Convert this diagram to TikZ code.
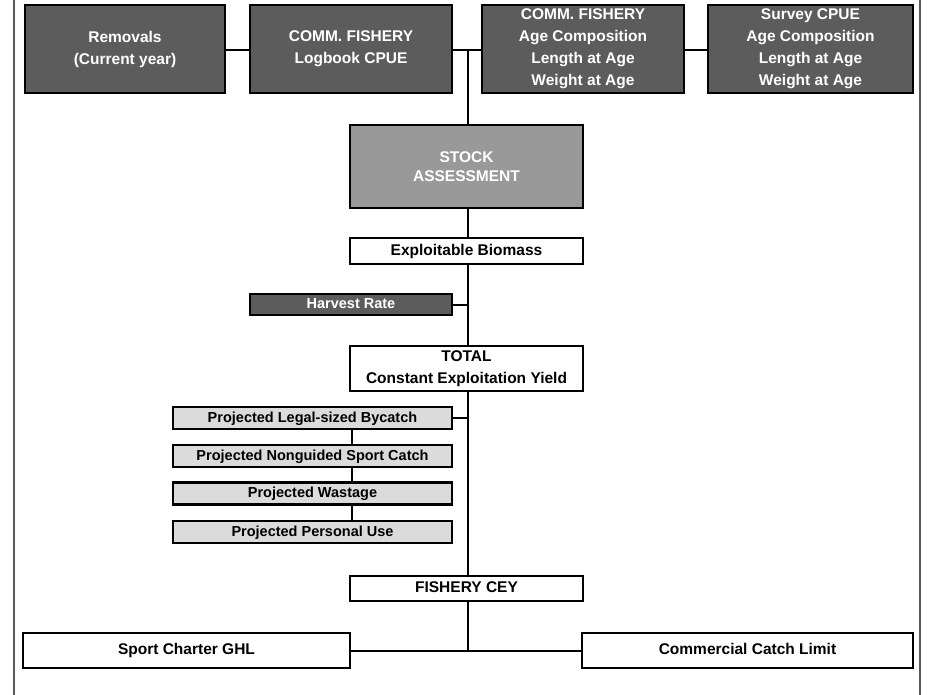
\documentclass[tikz,border=0pt]{standalone}
\usepackage{fontspec}
\setmainfont{Liberation Sans}
\begin{document}
\begin{tikzpicture}[x=1pt,y=-1pt,
  base/.style={draw=black,line width=2.4pt,rectangle,inner sep=0pt,align=center,
     font=\fontsize{15.5}{22}\selectfont\bfseries},
  darkbox/.style={base,fill=black!64,text=white},
  midbox/.style={base,fill=black!40,text=white,font=\fontsize{15.5}{19}\selectfont\bfseries},
  whitebox/.style={base,fill=white,text=black},
  lightbox/.style={base,fill=black!14,text=black,font=\fontsize{14.5}{18}\selectfont\bfseries},
  oneline/.style={text height=11.2pt,text depth=3.2pt},
  conn/.style={draw=black,line width=2pt},
  frame/.style={draw=black!65,line width=1.5pt}]
\useasboundingbox (0,0) rectangle (928,695);
\fill[white] (0,0) rectangle (928,695);
\draw[frame] (14,0) -- (14,695);
\draw[frame] (920,0) -- (920,695);
% top row
\node[darkbox,minimum width=200,minimum height=88] (rem) at (125,49) {Removals\\(Current year)};
\node[darkbox,minimum width=202,minimum height=88] (logb) at (351,49) {COMM. FISHERY\\Logbook CPUE};
\node[darkbox,minimum width=202,minimum height=88] (cage) at (583,49) {COMM. FISHERY\\Age Composition\\Length at Age\\Weight at Age};
\node[darkbox,minimum width=205,minimum height=88] (surv) at (810.5,49) {Survey CPUE\\Age Composition\\Length at Age\\Weight at Age};
% main column
\node[midbox,minimum width=233,minimum height=83] (stock) at (466.5,166.5) {STOCK\\ASSESSMENT};
\node[whitebox,oneline,minimum width=233,minimum height=26] (expl) at (466.5,251) {Exploitable Biomass};
\node[darkbox,oneline,minimum width=202,minimum height=21,font=\fontsize{14.5}{18}\selectfont\bfseries] (harv) at (351,304.5) {Harvest Rate};
\node[whitebox,minimum width=233,minimum height=45] (total) at (466.5,368.5) {TOTAL\\Constant Exploitation Yield};
\node[lightbox,oneline,minimum width=279,minimum height=22] (p1) at (312.5,418) {Projected Legal-sized Bycatch};
\node[lightbox,oneline,minimum width=279,minimum height=22] (p2) at (312.5,456) {Projected Nonguided Sport Catch};
\node[lightbox,oneline,minimum width=279,minimum height=22] (p3) at (312.5,493.5) {Projected Wastage};
\node[lightbox,oneline,minimum width=279,minimum height=22] (p4) at (312.5,532) {Projected Personal Use};
\node[whitebox,oneline,minimum width=233,minimum height=25] (cey) at (466.5,588.5) {FISHERY CEY};
\node[whitebox,oneline,minimum width=327,minimum height=35] (sport) at (186.5,650.5) {Sport Charter GHL};
\node[whitebox,oneline,minimum width=331,minimum height=35] (comm) at (747.5,650.5) {Commercial Catch Limit};
% helper coordinates
\coordinate (mx) at (468,0);
\coordinate (px) at (352,0);
\coordinate (jt) at (468,50);
\coordinate (jb) at (468,651);
% connectors
\draw[conn] (rem.east |- 0,50) -- (logb.west |- 0,50);
\draw[conn] (logb.east |- 0,50) -- (cage.west |- 0,50);
\draw[conn] (cage.east |- 0,50) -- (surv.west |- 0,50);
\draw[conn] (jt) -- (stock.north -| mx);
\draw[conn] (stock.south -| mx) -- (expl.north -| mx);
\draw[conn] (expl.south -| mx) -- (total.north -| mx);
\draw[conn] (harv.east) -- (harv.east -| mx);
\draw[conn] (total.south -| mx) -- (cey.north -| mx);
\draw[conn] (p1.east) -- (p1.east -| mx);
\draw[conn] (p1.south -| px) -- (p2.north -| px);
\draw[conn] (p2.south -| px) -- (p3.north -| px);
\draw[conn] (p3.south -| px) -- (p4.north -| px);
\draw[conn] (cey.south -| mx) -- (jb);
\draw[conn] (sport.east) -- (comm.west);
\end{tikzpicture}
\end{document}
